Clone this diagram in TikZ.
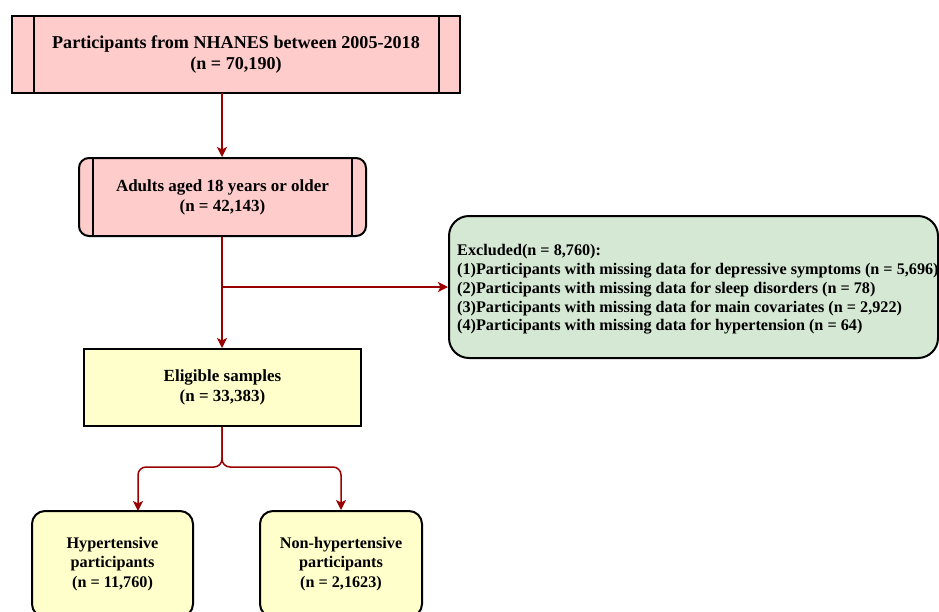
\documentclass[tikz,border=0pt]{standalone}
\usepackage{fontspec}
\setmainfont{Liberation Serif}
\usetikzlibrary{arrows.meta}
\definecolor{pinkf}{HTML}{FFCCCC}
\definecolor{yellowf}{HTML}{FFFFCC}
\definecolor{greenf}{HTML}{D5E8D4}
\definecolor{arr}{HTML}{990000}
\tikzset{
  box/.style={draw=black, line width=2pt, align=center, inner sep=0pt,
    font=\fontsize{17}{20}\selectfont\bfseries},
  conn/.style={draw=arr, line width=1.5pt, -{Stealth[length=10pt,width=10pt,inset=2.5pt]}},
}
\begin{document}
\begin{tikzpicture}[x=1pt,y=-1pt]
\useasboundingbox (0,0) rectangle (939,611);
\clip (0,0) rectangle (939,611);
% box 1
\node[box, fill=pinkf, minimum width=448pt, minimum height=77pt,
  font=\fontsize{18.1}{21}\selectfont\bfseries] (b1) at (236,54.5)
  {Participants from NHANES between 2005-2018\\(n = 70,190)};
\draw[line width=2pt] (34,16) -- (34,93) (439,16) -- (439,93);
% box 2
\node[box, fill=pinkf, rounded corners=10pt, minimum width=287pt, minimum height=78pt] (b2) at (222.5,197)
  {Adults aged 18 years or older\\(n = 42,143)};
\draw[line width=2pt] (93,158) -- (93,236) (352,158) -- (352,236);
% excluded
\node[box, fill=greenf, rounded corners=20pt, minimum width=489pt, minimum height=142pt] (ex) at (693.5,287) {};
\node[anchor=west, align=left, inner sep=0pt, font=\fontsize{16.2}{18.8}\selectfont\bfseries] (extext) at (457,289.5)
  {Excluded(n = 8,760):\\
   (1)Participants with missing data for depressive symptoms (n = 5,696)\\
   (2)Participants with missing data for sleep disorders (n = 78)\\
   (3)Participants with missing data for main covariates (n = 2,922)\\
   (4)Participants with missing data for hypertension (n = 64)};
% box 3
\node[box, fill=yellowf, minimum width=277pt, minimum height=77pt] (b3) at (222.5,387.5)
  {Eligible samples\\(n = 33,383)};
% bottom boxes
\node[box, fill=yellowf, rounded corners=13pt, minimum width=161pt, minimum height=106pt,
  font=\fontsize{16.2}{19.5}\selectfont\bfseries] (b4) at (112.5,564)
  {Hypertensive\\participants\\(n = 11,760)};
\node[box, fill=yellowf, rounded corners=13pt, minimum width=162pt, minimum height=106pt,
  font=\fontsize{16.2}{19.5}\selectfont\bfseries] (b5) at (341,564)
  {Non-hypertensive\\participants\\(n = 2,1623)};
% connectors
\coordinate (top1) at (222,93);
\coordinate (br) at (222,287);
\coordinate (sp) at (222,467);
\draw[conn] (top1) -- (b2.north -| top1);
\draw[conn] (b2.south -| top1) -- (b3.north -| top1);
\draw[conn] (br) -- (ex.west |- br);
\draw[conn, rounded corners=8pt] (b3.south -| sp) -- (sp) -- (138,467) -- (138,511);
\draw[conn, rounded corners=8pt] (b3.south -| sp) -- (sp) -- (341,467) -- (b5.north);
\end{tikzpicture}
\end{document}
